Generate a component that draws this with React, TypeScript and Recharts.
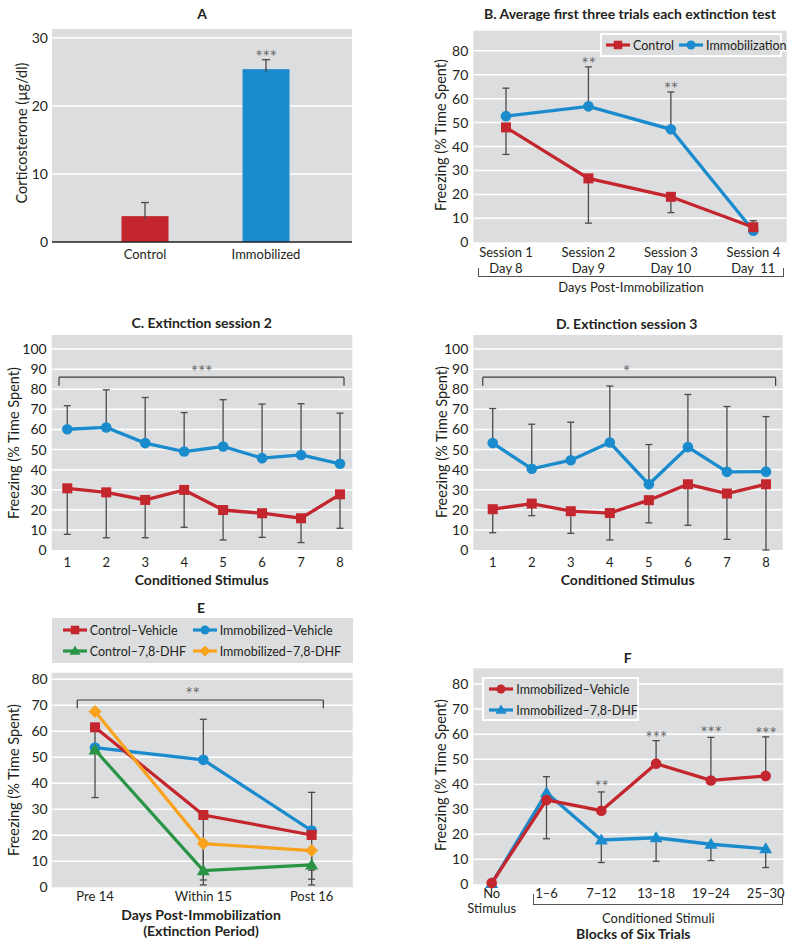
import React from "react";
import {
  Bar,
  BarChart,
  CartesianGrid,
  Cell,
  ErrorBar,
  Legend,
  Line,
  LineChart,
  ReferenceDot,
  ReferenceLine,
  XAxis,
  YAxis,
} from "recharts";

const FONT = "Lato, 'Open Sans', sans-serif";
const INK = "#231f20";
const PLOT_BG = "#dcdddf";
const RED = "#c4262e";
const BLUE = "#1a8bcd";
const GREEN = "#2a9445";
const ORANGE = "#f8a21e";
const WHISKER = "#4b4b4b";
const STAR = "#6a6a6a";

// A: corticosterone
const groupsA = ["Control", "Immobilized"];
const corticosterone = [3.8, 25.4];
const corticosteroneTop = [5.8, 26.8];

// B: average first three trials
const sessionsB = ["Session 1", "Session 2", "Session 3", "Session 4"];
const daysB = ["Day 8", "Day 9", "Day 10", "Day  11"];
const controlB = [48.0, 26.7, 19.0, 6.3];
const controlLowB = [36.7, 8.0, 12.4, null];
const immobB = [52.7, 56.8, 47.2, 4.8];
const immobHighB = [64.4, 73.3, 62.8, 9.0];

// C / D: extinction sessions 2 and 3
const stimuli = [1, 2, 3, 4, 5, 6, 7, 8];
const immobC = [60.1, 61.0, 53.2, 49.0, 51.5, 45.7, 47.3, 42.9];
const immobHighC = [71.8, 79.7, 75.9, 68.4, 74.8, 72.6, 72.8, 68.1];
const controlC = [30.7, 28.7, 24.9, 29.9, 19.9, 18.3, 15.8, 27.7];
const controlLowC = [7.8, 6.1, 6.1, 11.3, 5.0, 6.3, 3.7, 10.8];

const immobD = [53.2, 40.4, 44.7, 53.5, 32.7, 51.2, 38.9, 39.0];
const immobHighD = [70.4, 62.6, 63.6, 81.6, 52.5, 77.4, 71.4, 66.4];
const controlD = [20.3, 23.1, 19.3, 18.4, 24.8, 32.7, 28.1, 32.7];
const controlLowD = [8.6, 17.1, 8.3, 5.0, 13.5, 12.3, 5.3, 0];

// E: extinction period
const periodsE = ["Pre 14", "Within 15", "Post 16"];
const ctrlVehE = [61.5, 27.8, 20.1];
const ctrlVehLowE = [34.5, 0.9, 0.9];
const immVehE = [53.7, 49.0, 21.8];
const immVehHighE = [null, 64.6, 36.5];
const ctrlDhfE = [52.8, 6.4, 8.6];
const ctrlDhfLowE = [null, null, 6.6];
const immDhfE = [67.6, 16.8, 14.1];
const immDhfLowE = [null, 2.8, 3.1];

// F: blocks of six trials
const blocksF = ["No\nStimulus", "1–6", "7–12", "13–18", "19–24", "25–30"];
const immVehF = [0.5, 33.7, 29.4, 48.2, 41.5, 43.3];
const immVehHighF = [null, 43.0, 36.9, 57.4, 58.7, 58.9];
const immDhfF = [0.3, 36.6, 17.7, 18.6, 16.0, 14.2];
const immDhfLowF = [null, 18.2, 8.7, 9.2, 9.5, 6.7];

type Shape = "square" | "circle" | "triangle" | "diamond";

// whisker as [below, above] offsets from the mean
function spread(values: number[], ends: (number | null)[], dir: "up" | "down") {
  return values.map((v, i) => {
    const e = ends[i];
    if (e == null) return [0, 0];
    return dir === "up" ? [0, e - v] : [v - e, 0];
  });
}

function Marker({ cx, cy, shape, color, k = 1 }: { cx: number; cy: number; shape: Shape; color: string; k?: number }) {
  if (shape === "square") {
    const s = 10 * k;
    return <rect x={cx - s / 2} y={cy - s / 2} width={s} height={s} fill={color} />;
  }
  if (shape === "circle") return <circle cx={cx} cy={cy} r={5.3 * k} fill={color} />;
  if (shape === "triangle") {
    const w = 6.5 * k;
    return <polygon points={`${cx},${cy - 6.5 * k} ${cx + w},${cy + 4.5 * k} ${cx - w},${cy + 4.5 * k}`} fill={color} />;
  }
  const d = 6.5 * k;
  return <polygon points={`${cx},${cy - d} ${cx + d},${cy} ${cx},${cy + d} ${cx - d},${cy}`} fill={color} />;
}

const dotOf = (shape: Shape, color: string) => (p: any) =>
  <Marker key={`${shape}-${p.index}`} cx={p.cx} cy={p.cy} shape={shape} color={color} />;

const starOf = (text: string, above: number) => (p: any) => {
  const vb = p.viewBox;
  return (
    <text x={vb.x + (vb.width || 0) / 2} y={vb.y - above + 10} textAnchor="middle" fontSize={18} fill={STAR} fontFamily={FONT} letterSpacing={-0.5}>
      {text}
    </text>
  );
};

function TextAt({ x, y, children, size = 14, weight = 400, rotate = false }: any) {
  return (
    <div
      style={{
        position: "absolute",
        left: x,
        top: y,
        transform: `translate(-50%, -50%)${rotate ? " rotate(-90deg)" : ""}`,
        fontSize: size,
        fontWeight: weight,
        fontFamily: FONT,
        color: INK,
        whiteSpace: "pre",
        lineHeight: 1,
      }}
    >
      {children}
    </div>
  );
}

function GroupBracket({ left, right, y, rise }: { left: number; right: number; y: number; rise: number }) {
  return (
    <div
      style={{
        position: "absolute",
        left,
        top: y - rise,
        width: right - left,
        height: rise,
        boxSizing: "border-box",
        borderLeft: "1px solid #555",
        borderRight: "1px solid #555",
        borderBottom: "1px solid #555",
      }}
    />
  );
}

function LegendItem({ shape, color, label }: { shape: Shape; color: string; label: string }) {
  return (
    <div style={{ display: "flex", alignItems: "center", gap: 3, whiteSpace: "nowrap" }}>
      <svg width={24} height={14} style={{ flex: "none" }}>
        <line x1={0} x2={24} y1={7} y2={7} stroke={color} strokeWidth={3.2} />
        <Marker cx={12} cy={7} shape={shape} color={color} k={0.85} />
      </svg>
      <span>{label}</span>
    </div>
  );
}

function MultiTick({ x, y, payload, gap = 15 }: any) {
  const lines = String(payload.value).split("\n");
  return (
    <text x={x} y={y} textAnchor="middle" fill={INK} fontSize={13} fontFamily={FONT} style={{ whiteSpace: "pre" }}>
      {lines.map((l, i) => (
        <tspan key={i} x={x} dy={i === 0 ? "0.71em" : gap}>
          {l}
        </tspan>
      ))}
    </text>
  );
}

const yTick = { fill: INK, fontSize: 14, fontFamily: FONT };
const xTick = { fill: INK, fontSize: 13, fontFamily: FONT };
const bracketStyle = { stroke: "#3d3d3d", strokeWidth: 1.2, ifOverflow: "visible" as const };

function BarWithWhisker(props: any) {
  const { x, y, width, height, payload, index } = props;
  const fill = props.fill || [RED, BLUE][index];
  const perUnit = height / payload.level;
  const topY = y - (payload.levelTop - payload.level) * perUnit;
  const cx = x + width / 2;
  return (
    <g>
      <rect x={x} y={y} width={width} height={height} fill={fill} />
      <line x1={cx} x2={cx} y1={y + 3} y2={topY} stroke={WHISKER} strokeWidth={1.3} />
      <line x1={cx - 4} x2={cx + 4} y1={topY} y2={topY} stroke={WHISKER} strokeWidth={1.3} />
    </g>
  );
}

function PanelA() {
  const data = groupsA.map((g, i) => ({ group: g, level: corticosterone[i], levelTop: corticosteroneTop[i] }));
  return (
    <div style={{ position: "absolute", left: 0, top: 0 }}>
      <BarChart width={400} height={300} data={data} margin={{ top: 29, right: 48, bottom: 28, left: 12 }}>
        <CartesianGrid vertical={false} fill={PLOT_BG} stroke="#fff" strokeWidth={1.5} horizontalValues={[10, 20, 30]} />
        <XAxis dataKey="group" height={30} interval={0} axisLine={{ stroke: INK, strokeWidth: 1.6 }} tickLine={false} padding={{ left: 32.5, right: 25.5 }} tick={xTick} />
        <YAxis domain={[0, 31.3]} ticks={[0, 10, 20, 30]} interval={0} width={40} axisLine={false} tickLine={false} tickSize={4} tickMargin={0} tick={yTick} />
        <Bar dataKey="level" barSize={47} isAnimationActive={false} shape={(p: any) => <BarWithWhisker {...p} />}>
          {data.map((d, i) => (
            <Cell key={d.group} fill={[RED, BLUE][i]} />
          ))}
        </Bar>
        <ReferenceDot x="Immobilized" y={corticosteroneTop[1]} r={0} label={starOf("***", 6.6)} />
      </BarChart>
    </div>
  );
}

function PanelB() {
  const data = sessionsB.map((s, i) => ({
    session: `${s}\n${daysB[i]}`,
    control: controlB[i],
    immob: immobB[i],
  }));
  const ctrlErr = spread(controlB, controlLowB, "down");
  const immErr = spread(immobB, immobHighB, "up");
  data.forEach((d: any, i) => {
    d.controlErr = ctrlErr[i];
    d.immobErr = immErr[i];
  });
  return (
    <div style={{ position: "absolute", left: 400, top: 0 }}>
      <LineChart width={395} height={300} data={data} margin={{ top: 30.7, right: 8.3, bottom: 17.7, left: 33.3 }}>
        <CartesianGrid vertical={false} fill={PLOT_BG} stroke="#fff" strokeWidth={1.5} horizontalValues={[10, 20, 30, 40, 50, 60, 70, 80]} />
        <XAxis dataKey="session" height={40} interval={0} axisLine={false} tickLine={false} tickSize={5} tickMargin={0} padding={{ left: 32.7, right: 33.4 }} tick={<MultiTick gap={16} />} />
        <YAxis domain={[0, 88.4]} ticks={[0, 10, 20, 30, 40, 50, 60, 70, 80]} interval={0} width={40} axisLine={false} tickLine={false} tickSize={5} tickMargin={0} tick={yTick} />
        <Line dataKey="immob" stroke={BLUE} strokeWidth={3.3} isAnimationActive={false} dot={dotOf("circle", BLUE)} activeDot={false}>
          <ErrorBar dataKey="immobErr" direction="y" width={3.5} stroke={WHISKER} strokeWidth={1.3} />
        </Line>
        <Line dataKey="control" stroke={RED} strokeWidth={3.3} isAnimationActive={false} dot={dotOf("square", RED)} activeDot={false}>
          <ErrorBar dataKey="controlErr" direction="y" width={3.5} stroke={WHISKER} strokeWidth={1.3} />
        </Line>
        <ReferenceDot x={data[1].session} y={immobHighB[1] as number} r={0} label={starOf("**", 6.8)} />
        <ReferenceDot x={data[2].session} y={immobHighB[2] as number} r={0} label={starOf("**", 7)} />
        <Legend
          layout="vertical"
          align="center"
          verticalAlign="middle"
          wrapperStyle={{ left: 200, top: 33, width: 182, height: 24 }}
          content={() => (
            <div
              style={{
                boxSizing: "border-box",
                width: 182,
                height: 24,
                background: PLOT_BG,
                border: "2px solid #fff",
                display: "flex",
                alignItems: "center",
                gap: 5,
                paddingLeft: 4,
                fontFamily: FONT,
                fontSize: 12.5,
                color: INK,
              }}
            >
              <LegendItem shape="square" color={RED} label="Control" />
              <LegendItem shape="circle" color={BLUE} label="Immobilization" />
            </div>
          )}
        />
      </LineChart>
    </div>
  );
}

function SessionPanel({ left, top, immob, immobHigh, control, controlLow, domainX, bracket, stars, starX }: any) {
  const immErr = spread(immob, immobHigh, "up");
  const ctrlErr = spread(control, controlLow, "down");
  const data = stimuli.map((cs, i) => ({ cs, immob: immob[i], control: control[i], immobErr: immErr[i], controlErr: ctrlErr[i] }));
  const [bx1, bx2] = bracket;
  return (
    <div style={{ position: "absolute", left, top }}>
      <LineChart width={left === 0 ? 400 : 395} height={300} data={data} margin={{ top: 35, right: left === 0 ? 47.7 : 12.3, bottom: 20, left: left === 0 ? 11.7 : 33.3 }}>
        <CartesianGrid vertical={false} fill={PLOT_BG} stroke="#fff" strokeWidth={1.5} horizontalValues={[10, 20, 30, 40, 50, 60, 70, 80, 90, 100]} />
        <XAxis type="number" dataKey="cs" domain={domainX} ticks={stimuli} interval={0} height={30} axisLine={false} tickLine={false} tick={xTick} />
        <YAxis domain={[0, 107]} ticks={[0, 10, 20, 30, 40, 50, 60, 70, 80, 90, 100]} interval={0} width={40} axisLine={false} tickLine={false} tickSize={5} tickMargin={0} tick={yTick} />
        <ReferenceLine segment={[{ x: bx1, y: 81.7 }, { x: bx1, y: 86 }]} {...bracketStyle} />
        <ReferenceLine segment={[{ x: bx1, y: 86 }, { x: bx2, y: 86 }]} {...bracketStyle} />
        <ReferenceLine segment={[{ x: bx2, y: 86 }, { x: bx2, y: 81.7 }]} {...bracketStyle} />
        <ReferenceDot x={starX} y={86} r={0} label={starOf(stars, 9.3)} />
        <Line dataKey="immob" stroke={BLUE} strokeWidth={3.3} isAnimationActive={false} dot={dotOf("circle", BLUE)} activeDot={false}>
          <ErrorBar dataKey="immobErr" direction="y" width={3.5} stroke={WHISKER} strokeWidth={1.3} />
        </Line>
        <Line dataKey="control" stroke={RED} strokeWidth={3.3} isAnimationActive={false} dot={dotOf("square", RED)} activeDot={false}>
          <ErrorBar dataKey="controlErr" direction="y" width={3.5} stroke={WHISKER} strokeWidth={1.3} />
        </Line>
      </LineChart>
    </div>
  );
}

function PanelE() {
  const cvErr = spread(ctrlVehE, ctrlVehLowE, "down");
  const ivErr = spread(immVehE, immVehHighE, "up");
  const cdErr = spread(ctrlDhfE, ctrlDhfLowE, "down");
  const idErr = spread(immDhfE, immDhfLowE, "down");
  const data = periodsE.map((p, i) => ({
    idx: i,
    ctrlVeh: ctrlVehE[i],
    immVeh: immVehE[i],
    ctrlDhf: ctrlDhfE[i],
    immDhf: immDhfE[i],
    ctrlVehErr: cvErr[i],
    immVehErr: ivErr[i],
    ctrlDhfErr: cdErr[i],
    immDhfErr: idErr[i],
  }));
  const bx1 = -0.164;
  const bx2 = 2.108;
  return (
    <div style={{ position: "absolute", left: 0, top: 600 }}>
      <LineChart width={400} height={348} data={data} margin={{ top: 72.7, right: 47.3, bottom: 30.7, left: 11.7 }}>
        <CartesianGrid vertical={false} fill={PLOT_BG} stroke="#fff" strokeWidth={1.5} horizontalValues={[10, 20, 30, 40, 50, 60, 70, 80]} />
        <XAxis type="number" dataKey="idx" domain={[-0.4, 2.379]} ticks={[0, 1, 2]} tickFormatter={(i: number) => periodsE[i]} interval={0} height={30} axisLine={false} tickLine={false} tickSize={4} tickMargin={0} tick={xTick} />
        <YAxis domain={[0, 82.5]} ticks={[0, 10, 20, 30, 40, 50, 60, 70, 80]} interval={0} width={40} axisLine={false} tickLine={false} tickSize={4} tickMargin={0} tick={yTick} />
        <ReferenceLine segment={[{ x: bx1, y: 68.8 }, { x: bx1, y: 72 }]} {...bracketStyle} />
        <ReferenceLine segment={[{ x: bx1, y: 72 }, { x: bx2, y: 72 }]} {...bracketStyle} />
        <ReferenceLine segment={[{ x: bx2, y: 72 }, { x: bx2, y: 68.8 }]} {...bracketStyle} />
        <ReferenceDot x={0.9} y={72} r={0} label={starOf("**", 10)} />
        <Line dataKey="immVeh" stroke={BLUE} strokeWidth={3.2} isAnimationActive={false} dot={dotOf("circle", BLUE)} activeDot={false}>
          <ErrorBar dataKey="immVehErr" direction="y" width={3.5} stroke={WHISKER} strokeWidth={1.3} />
        </Line>
        <Line dataKey="ctrlVeh" stroke={RED} strokeWidth={3.2} isAnimationActive={false} dot={dotOf("square", RED)} activeDot={false}>
          <ErrorBar dataKey="ctrlVehErr" direction="y" width={3.5} stroke={WHISKER} strokeWidth={1.3} />
        </Line>
        <Line dataKey="immDhf" stroke={ORANGE} strokeWidth={3.2} isAnimationActive={false} dot={dotOf("diamond", ORANGE)} activeDot={false}>
          <ErrorBar dataKey="immDhfErr" direction="y" width={3.5} stroke={WHISKER} strokeWidth={1.3} />
        </Line>
        <Line dataKey="ctrlDhf" stroke={GREEN} strokeWidth={3.2} isAnimationActive={false} dot={dotOf("triangle", GREEN)} activeDot={false}>
          <ErrorBar dataKey="ctrlDhfErr" direction="y" width={3.5} stroke={WHISKER} strokeWidth={1.3} />
        </Line>
        <Legend
          layout="vertical"
          align="center"
          verticalAlign="middle"
          wrapperStyle={{ left: 51.7, top: 18.3, width: 301, height: 45 }}
          content={() => (
            <div
              style={{
                boxSizing: "border-box",
                width: 301,
                height: 45,
                background: PLOT_BG,
                display: "grid",
                gridTemplateColumns: "130px 1fr",
                gridAutoRows: 21,
                alignItems: "center",
                padding: "1.5px 0 0 11px",
                fontFamily: FONT,
                fontSize: 12.5,
                color: INK,
              }}
            >
              <LegendItem shape="square" color={RED} label="Control–Vehicle" />
              <LegendItem shape="circle" color={BLUE} label="Immobilized–Vehicle" />
              <LegendItem shape="triangle" color={GREEN} label="Control–7,8-DHF" />
              <LegendItem shape="diamond" color={ORANGE} label="Immobilized–7,8-DHF" />
            </div>
          )}
        />
      </LineChart>
    </div>
  );
}

function PanelF() {
  const vehErr = spread(immVehF, immVehHighF, "up");
  const dhfErr = spread(immDhfF, immDhfLowF, "down");
  const data = blocksF.map((b, i) => ({ block: b, veh: immVehF[i], dhf: immDhfF[i], vehErr: vehErr[i], dhfErr: dhfErr[i] }));
  return (
    <div style={{ position: "absolute", left: 400, top: 600 }}>
      <LineChart width={395} height={348} data={data} margin={{ top: 68.3, right: 11.7, bottom: 23.7, left: 33.3 }}>
        <CartesianGrid vertical={false} fill={PLOT_BG} stroke="#fff" strokeWidth={1.5} horizontalValues={[10, 20, 30, 40, 50, 60, 70, 80]} />
        <XAxis dataKey="block" height={40} interval={0} axisLine={false} tickLine={false} tickSize={4} tickMargin={0} padding={{ left: 18.4, right: 17.6 }} tick={<MultiTick gap={15} />} />
        <YAxis domain={[0, 86.3]} ticks={[0, 10, 20, 30, 40, 50, 60, 70, 80]} interval={0} width={40} axisLine={false} tickLine={false} tickSize={5} tickMargin={0} tick={yTick} />
        <Line dataKey="dhf" stroke={BLUE} strokeWidth={3.3} isAnimationActive={false} dot={dotOf("triangle", BLUE)} activeDot={false}>
          <ErrorBar dataKey="dhfErr" direction="y" width={3.5} stroke={WHISKER} strokeWidth={1.3} />
        </Line>
        <Line dataKey="veh" stroke={RED} strokeWidth={3.3} isAnimationActive={false} dot={dotOf("circle", RED)} activeDot={false}>
          <ErrorBar dataKey="vehErr" direction="y" width={3.5} stroke={WHISKER} strokeWidth={1.3} />
        </Line>
        <ReferenceDot x="7–12" y={immVehHighF[2] as number} r={0} label={starOf("**", 9.3)} />
        <ReferenceDot x="13–18" y={immVehHighF[3] as number} r={0} label={starOf("***", 6.7)} />
        <ReferenceDot x="19–24" y={immVehHighF[4] as number} r={0} label={starOf("***", 8.3)} />
        <ReferenceDot x="25–30" y={immVehHighF[5] as number} r={0} label={starOf("***", 7.3)} />
        <Legend
          layout="vertical"
          align="center"
          verticalAlign="middle"
          wrapperStyle={{ left: 82.3, top: 76.7, width: 157, height: 44 }}
          content={() => (
            <div
              style={{
                boxSizing: "border-box",
                width: 157,
                height: 44,
                background: PLOT_BG,
                border: "2px solid #fff",
                display: "grid",
                gridAutoRows: 21,
                alignItems: "center",
                padding: "0 0 0 5px",
                fontFamily: FONT,
                fontSize: 12.5,
                color: INK,
              }}
            >
              <LegendItem shape="circle" color={RED} label="Immobilized–Vehicle" />
              <LegendItem shape="triangle" color={BLUE} label="Immobilized–7,8-DHF" />
            </div>
          )}
        />
      </LineChart>
    </div>
  );
}

export default function App() {
  return (
    <div style={{ position: "absolute", left: 0, top: 0, width: 795, height: 948, background: "#fff", overflow: "hidden" }}>
      <PanelA />
      <PanelB />
      <SessionPanel
        left={0}
        top={300}
        immob={immobC}
        immobHigh={immobHighC}
        control={controlC}
        controlLow={controlLowC}
        domainX={[0.6, 8.316]}
        bracket={[0.787, 8.103]}
        stars="***"
        starX={4.445}
      />
      <SessionPanel
        left={400}
        top={300}
        immob={immobD}
        immobHigh={immobHighD}
        control={controlD}
        controlLow={controlLowD}
        domainX={[0.503, 8.428]}
        bracket={[0.744, 8.247]}
        stars="*"
        starX={4.42}
      />
      <PanelE />
      <PanelF />

      <TextAt x={202} y={14} weight={700}>A</TextAt>
      <TextAt x={22} y={133} size={14.5} rotate>Corticosterone (µg/dl)</TextAt>

      <TextAt x={630} y={14} weight={700}>B. Average first three trials each extinction test</TextAt>
      <TextAt x={440.5} y={135} size={14.5} rotate>Freezing (% Time Spent)</TextAt>
      <GroupBracket left={478} right={784} y={277} rise={9} />
      <TextAt x={631} y={287} size={13}>Days Post-Immobilization</TextAt>

      <TextAt x={201.7} y={322.7} weight={700}>C. Extinction session 2</TextAt>
      <TextAt x={14.2} y={442.5} size={14.5} rotate>Freezing (% Time Spent)</TextAt>
      <TextAt x={201.7} y={580} weight={700}>Conditioned Stimulus</TextAt>

      <TextAt x={626.7} y={324} weight={700}>D. Extinction session 3</TextAt>
      <TextAt x={441.7} y={442} size={14.5} rotate>Freezing (% Time Spent)</TextAt>
      <TextAt x={627.7} y={580} weight={700}>Conditioned Stimulus</TextAt>

      <TextAt x={201} y={608} weight={700}>E</TextAt>
      <TextAt x={13.8} y={780} size={14.5} rotate>Freezing (% Time Spent)</TextAt>
      <TextAt x={201} y={915} weight={700}>Days Post-Immobilization</TextAt>
      <TextAt x={201} y={931} weight={700}>(Extinction Period)</TextAt>

      <TextAt x={627.7} y={657.7} weight={700}>F</TextAt>
      <TextAt x={440.5} y={775} size={14.5} rotate>Freezing (% Time Spent)</TextAt>
      <GroupBracket left={533.3} right={783.3} y={905} rise={11} />
      <TextAt x={658.3} y={917.7} size={13}>Conditioned Stimuli</TextAt>
      <TextAt x={633.3} y={934.3} weight={700}>Blocks of Six Trials</TextAt>
    </div>
  );
}
